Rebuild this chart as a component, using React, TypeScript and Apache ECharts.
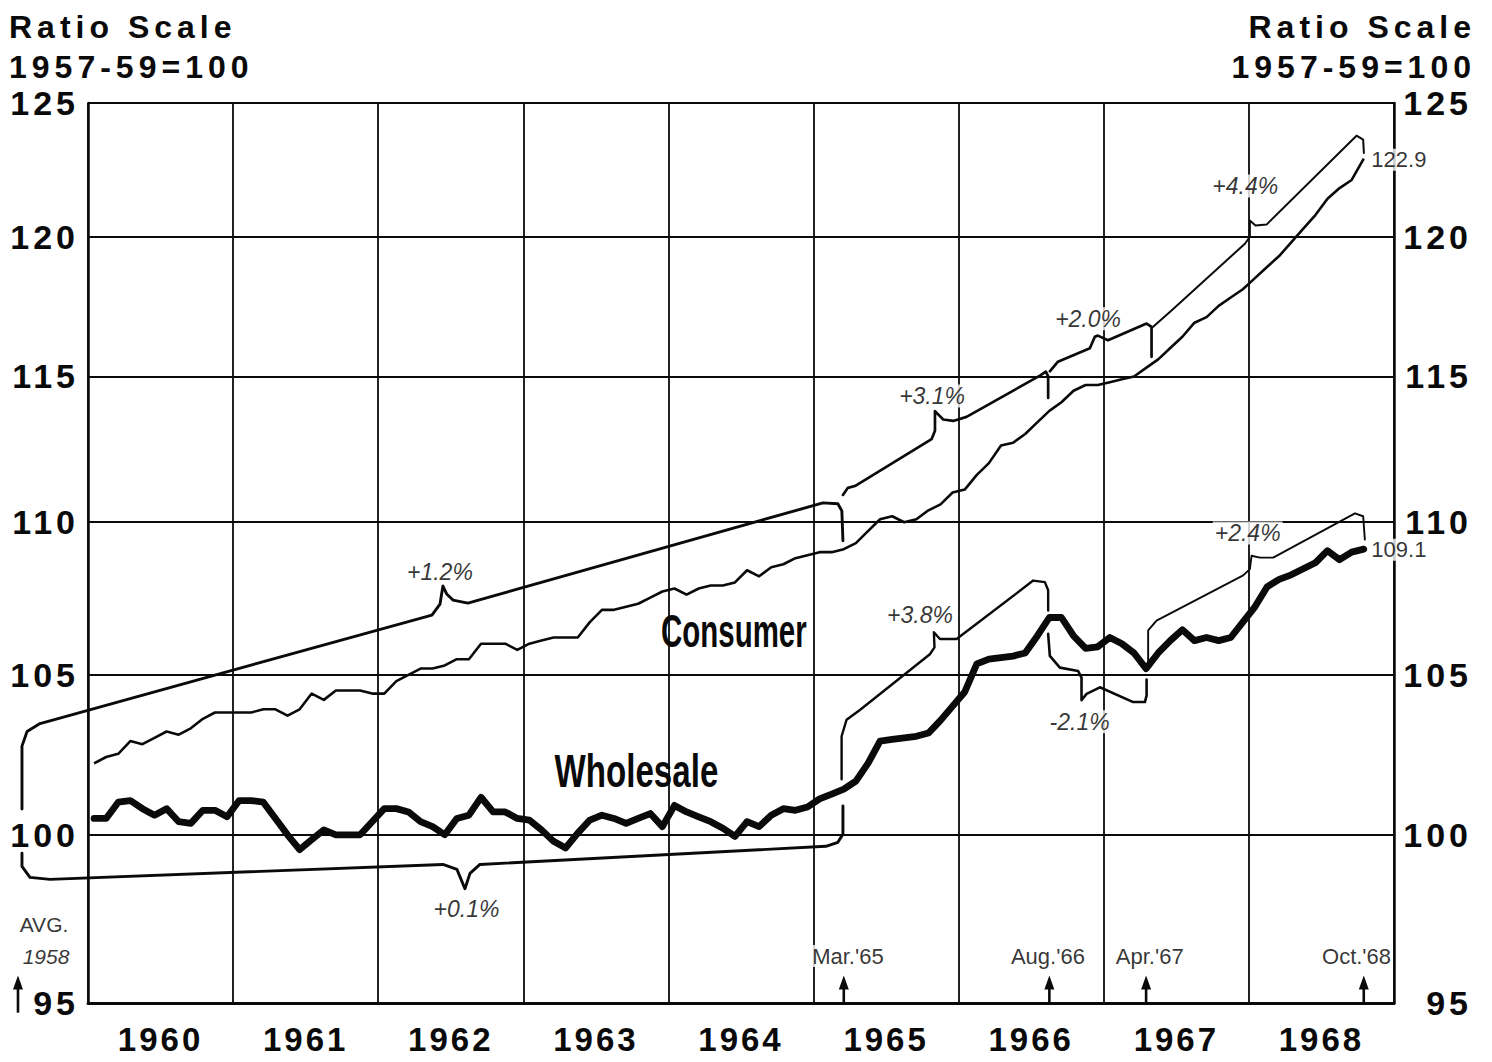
import React, { useEffect, useRef } from "react";
import * as echarts from "echarts";

// ---------- data ----------
const years = ["1960", "1961", "1962", "1963", "1964", "1965", "1966", "1967", "1968"];
const yTicks = [95, 100, 105, 110, 115, 120, 125];

// monthly index values, Jan 1960 .. Oct 1968 (1957-59 = 100)
const consumer = [
  102.2, 102.4, 102.5, 102.9, 102.8, 103.0, 103.2, 103.1, 103.3, 103.6, 103.8, 103.8,
  103.8, 103.8, 103.9, 103.9, 103.7, 103.9, 104.4, 104.2, 104.5, 104.5, 104.5, 104.4,
  104.4, 104.8, 105.0, 105.2, 105.2, 105.3, 105.5, 105.5, 106.0, 106.0, 106.0, 105.8,
  106.0, 106.1, 106.2, 106.2, 106.2, 106.7, 107.1, 107.1, 107.2, 107.3, 107.5, 107.7,
  107.8, 107.6, 107.8, 107.9, 107.9, 108.0, 108.4, 108.2, 108.5, 108.6, 108.8, 108.9,
  109.0, 109.0, 109.1, 109.3, 109.7, 110.1, 110.2, 110.0, 110.1, 110.4, 110.6, 111.0,
  111.1, 111.6, 112.0, 112.6, 112.7, 113.0, 113.4, 113.8, 114.1, 114.5, 114.7, 114.7,
  114.8, 114.9, 115.0, 115.3, 115.6, 116.0, 116.4, 116.9, 117.1, 117.5, 117.8, 118.1,
  118.5, 118.9, 119.3, 119.8, 120.3, 120.8, 121.4, 121.8, 122.1, 122.9,
];
const wholesale = [
  100.5, 100.5, 101.0, 101.05, 100.8, 100.6, 100.8, 100.4, 100.35, 100.75, 100.75, 100.55,
  101.05, 101.05, 101.0, 100.5, 100.0, 99.55, 99.85, 100.15, 100.0, 100.0, 100.0, 100.4,
  100.8, 100.8, 100.7, 100.4, 100.25, 100.0, 100.5, 100.6, 101.15, 100.7, 100.7, 100.5,
  100.45, 100.15, 99.8, 99.6, 100.05, 100.45, 100.6, 100.5, 100.35, 100.5, 100.65, 100.25,
  100.9, 100.7, 100.55, 100.4, 100.2, 99.95, 100.4, 100.25, 100.6, 100.8, 100.75, 100.85,
  101.1, 101.25, 101.4, 101.65, 102.2, 102.9, 102.95, 103.0, 103.05, 103.15, 103.55, 104.0,
  104.45, 105.35, 105.5, 105.55, 105.6, 105.7, 106.25, 106.85, 106.85, 106.25, 105.85, 105.9,
  106.2, 106.0, 105.7, 105.2, 105.7, 106.1, 106.45, 106.1, 106.2, 106.1, 106.2, 106.7,
  107.2, 107.85, 108.1, 108.25, 108.45, 108.65, 109.05, 108.75, 109.0, 109.1,
];

// bracket annotations: [month position from Jan 1960, index value]
const bracketUp12 = [[62.43, 109.38], [62.34, 110.38], [62.01, 110.62], [60.77, 110.65], [31.42, 107.32], [30.18, 107.42], [29.68, 107.61], [29.35, 107.88], [29.11, 107.29], [28.44, 106.93], [-3.97, 103.45], [-5.04, 103.2], [-5.46, 102.74], [-5.46, 100.79]];
const bracketLow01 = [[-5.46, 99.44], [-5.46, 99.04], [-4.8, 98.71], [-3.14, 98.65], [29.35, 99.1], [30.51, 98.95], [31.17, 98.37], [31.59, 98.83], [32.41, 99.1], [61.02, 99.65], [62.01, 99.77], [62.43, 100.02], [62.43, 100.88]];
const bracket31 = [[62.43, 110.92], [62.84, 111.16], [63.42, 111.22], [69.76, 112.82], [70.04, 113.11], [70.04, 113.79], [70.72, 113.5], [71.55, 113.45], [72.65, 113.59], [78.72, 115.03], [79.21, 115.17], [79.4, 115.0], [79.4, 114.25]];
const bracket20 = [[79.54, 115.18], [80.21, 115.52], [82.85, 115.99], [83.26, 116.4], [83.51, 116.44], [84.35, 116.28], [87.54, 116.87], [87.95, 116.75], [87.95, 115.69]];
const bracket44 = [[88.06, 116.75], [89.74, 117.39], [95.67, 119.75], [96.08, 120.0], [96.08, 120.6], [96.55, 120.42], [97.46, 120.45], [104.9, 123.76], [105.45, 123.61], [105.51, 123.11]];
const bracket38 = [[62.32, 101.71], [62.32, 103.05], [62.73, 103.57], [63.83, 103.88], [69.62, 105.66], [70.0, 105.88], [69.95, 106.37], [70.45, 106.15], [71.83, 106.15], [78.16, 108.06], [79.13, 108.01], [79.4, 107.74], [79.4, 107.08]];
const bracket21 = [[79.4, 106.32], [79.54, 105.61], [80.37, 105.23], [81.88, 105.12], [82.16, 104.91], [82.16, 104.19], [82.58, 104.39], [83.68, 104.6], [86.43, 104.13], [87.4, 104.13], [87.54, 104.34], [87.54, 104.85]];
const bracket24 = [[87.67, 105.23], [87.67, 106.43], [88.36, 106.75], [95.53, 108.23], [96.08, 108.44], [96.22, 108.88], [96.91, 108.82], [98.01, 108.82], [104.77, 110.3], [105.45, 110.2], [105.59, 109.42]];

const pctLabels = [
  { text: "+1.2%", m: 29.1, v: 108.33 },
  { text: "+0.1%", m: 31.3, v: 97.77 },
  { text: "+3.1%", m: 69.8, v: 114.32 },
  { text: "+3.8%", m: 68.8, v: 106.93 },
  { text: "+2.0%", m: 82.7, v: 117.04 },
  { text: "-2.1%", m: 82.0, v: 103.51 },
  { text: "+4.4%", m: 95.7, v: 121.88 },
  { text: "+2.4%", m: 95.9, v: 109.64 },
];
const endLabels = [
  { text: "122.9", m: 105.92, v: 122.86 },
  { text: "109.1", m: 105.92, v: 109.08 },
];
const dateLabels = [
  { text: "Mar.'65", m: 62.84, v: 96.37 },
  { text: "Aug.'66", m: 79.38, v: 96.37 },
  { text: "Apr.'67", m: 87.8, v: 96.37 },
  { text: "Oct.'68", m: 104.9, v: 96.37 },
];
const avgLabels = [
  { text: "AVG.", m: -3.64, v: 97.29, italic: false },
  { text: "1958", m: -3.47, v: 96.37, italic: true },
];
// arrows: month position, value where the shaft starts
const arrowMonths = [62.5, 79.5, 87.5, 105.5];
const avgArrow = { m: -5.79, base: 94.72 };

const seriesNames = { consumer: "Consumer", wholesale: "Wholesale" };
const seriesNamePos = {
  consumer: [53.41, 106.41],
  wholesale: [45.35, 101.97],
};

// ---------- styling ----------
const INK = "#0a0a0a";
const NUM_FONT = '"Liberation Sans", Arial, sans-serif';

const brackets = [
  { pts: bracketUp12, w: 2.9 },
  { pts: bracketLow01, w: 2.9 },
  { pts: bracket31, w: 2.7 },
  { pts: bracket20, w: 2.7 },
  { pts: bracket44, w: 2.0 },
  { pts: bracket38, w: 2.4 },
  { pts: bracket21, w: 2.6 },
  { pts: bracket24, w: 1.9 },
];

const arrows = [
  ...arrowMonths.map((m) => ({ m, base: 95 })),
  avgArrow,
];

function labelSeries(items: any[], label: any) {
  return {
    type: "scatter",
    clip: false,
    silent: true,
    z: 6,
    symbolSize: 1,
    itemStyle: { color: "rgba(0,0,0,0)" },
    data: items.map((d) => ({
      name: d.text,
      value: [d.m, d.v],
      label: d.italic === undefined ? undefined : { fontStyle: d.italic ? "italic" : "normal" },
    })),
    label: Object.assign(
      { show: true, formatter: "{b}", color: "#000", fontFamily: NUM_FONT, backgroundColor: "#fff", padding: [0, 2] },
      label
    ),
  };
}

const yLabelStrings = yTicks.map((v) => String(v));

export default function App() {
  const ref = useRef<HTMLDivElement>(null);

  useEffect(() => {
    const el = ref.current!;
    const chart = echarts.init(el, null, { renderer: "svg" });

    const yLabelBase = {
      customValues: yTicks,
      fontFamily: NUM_FONT,
      fontWeight: "bold",
      fontSize: 34,
      color: INK,
      formatter: (v: number) => String(Math.round(v)),
    };

    const option: any = {
      animation: false,
      backgroundColor: "#fff",
      grid: { left: 88, right: 98, top: 103, bottom: 59, containLabel: false },
      xAxis: [
        {
          type: "value",
          min: 0,
          max: 108,
          interval: 12,
          position: "bottom",
          axisLine: { show: true, onZero: false, lineStyle: { color: INK, width: 3 } },
          axisTick: { show: false },
          axisLabel: { show: false },
          splitLine: { show: true, lineStyle: { color: INK, width: 1.8 } },
        },
        {
          type: "category",
          data: years,
          position: "bottom",
          boundaryGap: true,
          axisLine: { show: false },
          axisTick: { show: false },
          splitLine: { show: false },
          axisLabel: { interval: 0, margin: 20, fontFamily: NUM_FONT, fontWeight: "bold", fontSize: 33, color: INK },
        },
      ],
      yAxis: [
        {
          type: "log",
          min: 95,
          max: 125,
          position: "left",
          axisLine: { show: true, onZero: false, lineStyle: { color: INK, width: 2.5 } },
          axisTick: { show: false },
          splitLine: { show: false },
          axisLabel: Object.assign({ margin: 9 }, yLabelBase),
        },
        {
          type: "log",
          min: 95,
          max: 125,
          position: "right",
          axisLine: { show: true, onZero: false, lineStyle: { color: INK, width: 2.5 } },
          axisTick: { show: false },
          splitLine: { show: false },
          axisLabel: Object.assign({ margin: 78, align: "right" }, yLabelBase),
        },
      ],
      series: [
        {
          name: seriesNames.consumer,
          type: "line",
          data: consumer.map((v, i) => [i + 0.5, v]),
          symbol: "none",
          showSymbol: false,
          silent: true,
          z: 3,
          lineStyle: { color: INK, width: 2.6, join: "round" },
          markLine: {
            silent: true,
            symbol: ["none", "none"],
            label: { show: false },
            lineStyle: { color: INK, width: 1.9, type: "solid" },
            data: yTicks.filter((v) => v > 95).map((v) => ({ yAxis: v })),
          },
        },
        {
          name: seriesNames.wholesale,
          type: "line",
          data: wholesale.map((v, i) => [i + 0.5, v]),
          symbol: "none",
          showSymbol: false,
          silent: true,
          z: 3,
          lineStyle: { color: INK, width: 6.8, join: "round", cap: "round" },
        },
        {
          type: "custom",
          silent: true,
          clip: false,
          z: 3,
          data: brackets.map((b) => b.pts[0]),
          renderItem: (params: any, api: any) => {
            const b = brackets[params.dataIndex];
            return {
              type: "polyline",
              shape: { points: b.pts.map((p) => api.coord(p)) },
              style: { stroke: INK, lineWidth: b.w, fill: "none", lineJoin: "round", lineCap: "round" },
            };
          },
        },
        {
          type: "custom",
          silent: true,
          clip: false,
          z: 4,
          data: arrows.map((a) => [a.m, a.base]),
          renderItem: (params: any, api: any) => {
            const a = arrows[params.dataIndex];
            const base = api.coord([a.m, a.base]);
            const tip = api.coord([a.m, 95.8]);
            const headH = 14;
            return {
              type: "group",
              children: [
                {
                  type: "line",
                  shape: { x1: base[0], y1: base[1], x2: tip[0], y2: tip[1] + headH - 2 },
                  style: { stroke: INK, lineWidth: 2.6 },
                },
                {
                  type: "polygon",
                  shape: {
                    points: [
                      [tip[0], tip[1]],
                      [tip[0] - 5, tip[1] + headH],
                      [tip[0] + 5, tip[1] + headH],
                    ],
                  },
                  style: { fill: INK },
                },
              ],
            };
          },
        },
        labelSeries(pctLabels, { position: "inside", fontStyle: "italic", fontSize: 23 }),
        labelSeries(endLabels, { position: "right", distance: 0, fontSize: 22 }),
        labelSeries(dateLabels, { position: "inside", fontSize: 22 }),
        labelSeries(avgLabels, { position: "inside", fontSize: 21 }),
      ],
    };

    chart.setOption(option);

    const pc = chart.convertToPixel({ xAxisIndex: 0, yAxisIndex: 0 }, seriesNamePos.consumer) as number[];
    const pw = chart.convertToPixel({ xAxisIndex: 0, yAxisIndex: 0 }, seriesNamePos.wholesale) as number[];

    const titleStyle = { fill: INK, font: 'bold 32px "Liberation Sans", Arial, sans-serif', verticalAlign: "middle" };
    chart.setOption({
      graphic: [
        { type: "text", x: 9, y: 27, style: Object.assign({ text: "Ratio Scale", align: "left" }, titleStyle) },
        { type: "text", x: 9, y: 67, style: Object.assign({ text: "1957-59=100", align: "left" }, titleStyle) },
        { type: "text", x: 1476, y: 27, style: Object.assign({ text: "Ratio Scale", align: "right" }, titleStyle) },
        { type: "text", x: 1476, y: 67, style: Object.assign({ text: "1957-59=100", align: "right" }, titleStyle) },
        {
          type: "text",
          x: pc[0],
          y: pc[1],
          scaleX: 0.64,
          z: 10,
          style: { text: seriesNames.consumer, fill: INK, font: 'bold 46px "Liberation Sans", Arial, sans-serif', align: "center", verticalAlign: "middle" },
        },
        {
          type: "text",
          x: pw[0],
          y: pw[1],
          scaleX: 0.72,
          z: 10,
          style: { text: seriesNames.wholesale, fill: INK, font: 'bold 46px "Liberation Sans", Arial, sans-serif', align: "center", verticalAlign: "middle" },
        },
      ],
    });

    const applySpacing = () => {
      el.querySelectorAll("text").forEach((t) => {
        const s = (t.textContent || "").trim();
        if (s === "Ratio Scale" || s === "1957-59=100") t.setAttribute("letter-spacing", "5");
        else if (years.indexOf(s) >= 0) t.setAttribute("letter-spacing", "3");
        else if (yLabelStrings.indexOf(s) >= 0) t.setAttribute("letter-spacing", "4");
      });
    };
    applySpacing();
    chart.on("finished", applySpacing);
    const timer = setTimeout(applySpacing, 50);

    return () => {
      clearTimeout(timer);
      chart.dispose();
    };
  }, []);

  return (
    <div
      ref={ref}
      style={{ position: "absolute", left: 0, top: 0, width: 1492, height: 1062, background: "#fff" }}
    />
  );
}
